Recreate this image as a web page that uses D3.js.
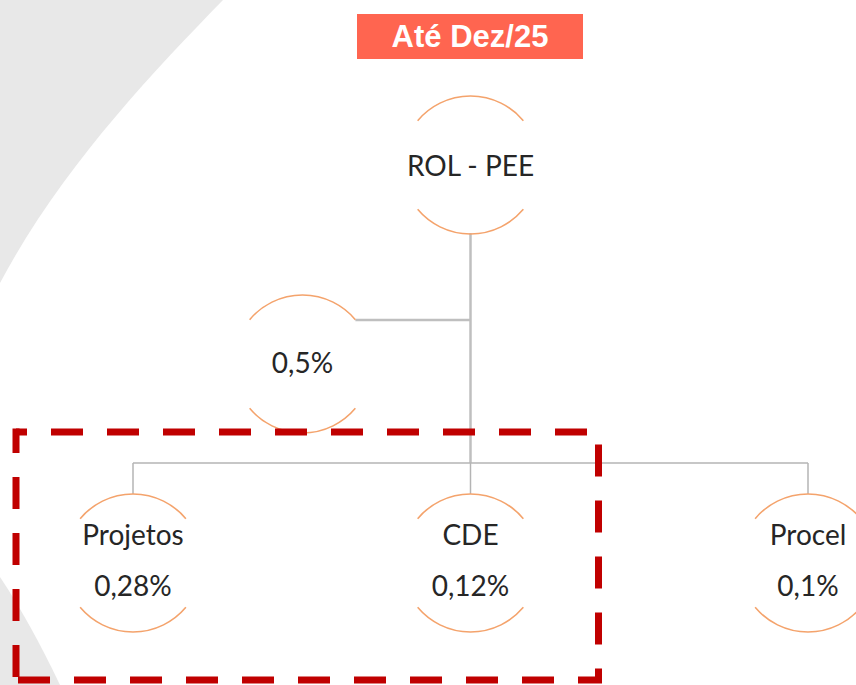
<!DOCTYPE html>
<html><head><meta charset="utf-8">
<script src="https://cdn.jsdelivr.net/npm/d3@7"></script>
<style>html,body{margin:0;padding:0;background:#fff;overflow:hidden}</style>
</head><body>
<script>
const title = "Até Dez/25";
const rootLabel = "ROL - PEE";
const assistantLabel = "0,5%";
const childLabels = ["Projetos", "CDE", "Procel"];
const childValues = ["0,28%", "0,12%", "0,1%"];
const highlighted = ["Projetos", "CDE"];

const W = 856, H = 685;
const svg = d3.select("body").append("svg").attr("width", W).attr("height", H);

// background swoosh
svg.append("path").attr("d", "M0,0 L223,0 C150,75 60,170 0,283 Z").attr("fill", "#e8e8e8");
svg.append("path").attr("d", "M0,577 Q30,622 60,685 L0,685 Z").attr("fill", "#e8e8e8");

// title
svg.append("rect").attr("x", 357).attr("y", 14).attr("width", 226).attr("height", 45).attr("fill", "#ff6550");
svg.append("text").attr("x", 470).attr("y", 47).attr("text-anchor", "middle")
  .attr("font-family", "'Liberation Sans', Arial, sans-serif").attr("font-weight", "bold")
  .attr("font-size", 31).attr("fill", "#fff").text(title);

// scales
const x = d3.scalePoint().domain(childLabels).range([133, 808]);
const y = d3.scalePoint().domain(["root", "assistant", "children"]).range([165, 563]);
const rootX = (x(childLabels[0]) + x(childLabels[childLabels.length - 1])) / 2;
const R = 69;
const barY = 463;
const assistX = rootX - 168;
const assistY = 364;

// connectors
const lineCol = "#bfbfbf";
svg.append("line").attr("x1", rootX).attr("x2", rootX).attr("y1", y("root") + R - 1).attr("y2", barY)
  .attr("stroke", lineCol).attr("stroke-width", 2.5);
svg.append("line").attr("x1", assistX + R * Math.sin(50 * Math.PI / 180)).attr("x2", rootX)
  .attr("y1", 320).attr("y2", 320).attr("stroke", lineCol).attr("stroke-width", 2.5);
svg.append("line").attr("x1", x(childLabels[0])).attr("x2", x(childLabels[childLabels.length - 1]))
  .attr("y1", barY).attr("y2", barY).attr("stroke", "#b4b4b4").attr("stroke-width", 1.5);
childLabels.forEach(c => {
  svg.append("line").attr("x1", x(c)).attr("x2", x(c)).attr("y1", barY).attr("y2", y("children") - R)
    .attr("stroke", "#b4b4b4").attr("stroke-width", 1.5);
});

// node arcs
const arc = d3.arc().innerRadius(R).outerRadius(R);
const arcCol = "#f4a36c";
function nodeArcs(cx, cy) {
  const g = svg.append("g").attr("transform", `translate(${cx},${cy})`);
  const a = 50 * Math.PI / 180;
  g.append("path").attr("d", arc({startAngle: -a, endAngle: a})).attr("fill", "none").attr("stroke", arcCol).attr("stroke-width", 1.6);
  g.append("path").attr("d", arc({startAngle: Math.PI - a, endAngle: Math.PI + a})).attr("fill", "none").attr("stroke", arcCol).attr("stroke-width", 1.6);
}
const font = "Lato, 'Open Sans', sans-serif";
const txtCol = "#262626";
function label(cx, cy, t) {
  svg.append("text").attr("x", cx).attr("y", cy).attr("text-anchor", "middle")
    .attr("font-family", font).attr("font-size", 28).attr("fill", txtCol).text(t);
}

nodeArcs(rootX, y("root"));
label(rootX, y("root") + 11, rootLabel);
nodeArcs(assistX, assistY);
label(assistX, assistY + 9, assistantLabel);
childLabels.forEach((c, i) => {
  nodeArcs(x(c), y("children"));
  label(x(c), y("children") - 18, c);
  label(x(c), y("children") + 33, childValues[i]);
});

// highlight dashed box
const hx0 = x(highlighted[0]) - 117, hx1 = x(highlighted[highlighted.length - 1]) + 128;
const hy0 = 432, hy1 = 680;
svg.append("path").attr("d", `M${hx0},${hy0} H${hx1} V${hy1} H${hx0}`)
  .attr("fill", "none").attr("stroke", "#c00000").attr("stroke-width", 7)
  .attr("stroke-dasharray", "32,24").attr("stroke-dashoffset", 21);
svg.append("path").attr("d", `M${hx0},${hy1} V${hy0 - 3.5}`)
  .attr("fill", "none").attr("stroke", "#c00000").attr("stroke-width", 7)
  .attr("stroke-dasharray", "32,24").attr("stroke-dashoffset", 53);
</script>
</body></html>
